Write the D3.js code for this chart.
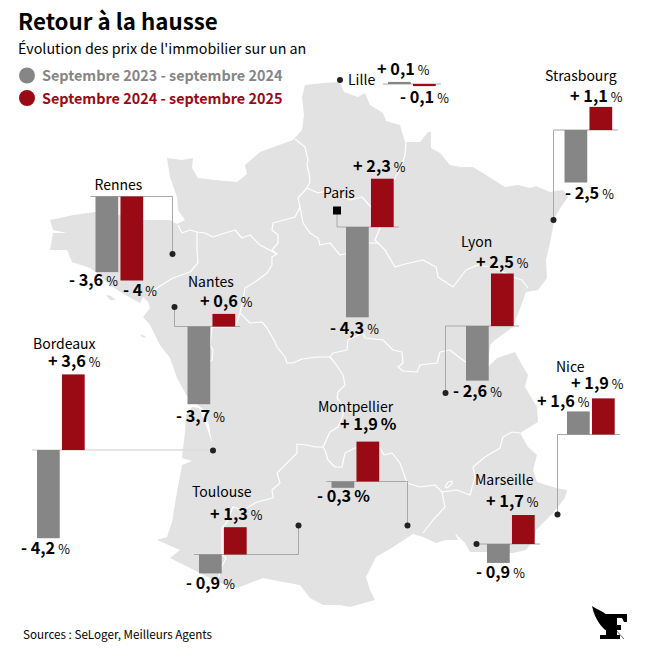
<!DOCTYPE html>
<html>
<head>
<meta charset="utf-8">
<script src="https://cdn.jsdelivr.net/npm/d3@7"></script>
<style>
  body { margin: 0; background: #fff; }
  text { font-family: "Noto Sans CJK SC", "Noto Sans", sans-serif; fill: #000; }
</style>
</head>
<body>
<svg id="canvas"></svg>
<script>
const cities = ["Lille", "Strasbourg", "Paris", "Lyon", "Rennes", "Nantes", "Bordeaux", "Toulouse", "Montpellier", "Marseille", "Nice"];
const change2024 = [0.1, -2.5, -4.3, -2.6, -3.6, -3.7, -4.2, -0.9, -0.3, -0.9, 1.6];
const change2025 = [-0.1, 1.1, 2.3, 2.5, -4, 0.6, 3.6, 1.3, 1.9, 1.7, 1.9];
// the reference draws these bars shorter than their printed value, this is the height they read as
const drawnAs = {Marseille: {v25: 1.38}, Nice: {v24: 1.1, v25: 1.72}};
const periods = ["Septembre 2023 - septembre 2024", "Septembre 2024 - septembre 2025"];

const width = 646;
const height = 651;
const gray = "#868686";
const red = "#990a14";
const mapColor = "#e2e2e2";

// where each little chart sits on the map
// x,y = bars origin; line = baseline ends; pin = end of the leader;
// name, lab24, lab25 = left x and baseline of each text
const layout = {
  Lille:       {x: 388,   y: 84,  line: [383, 441], pin: [340, 80],  name: [348, 85],  lab24: [377, 75],  lab25: [400, 103]},
  Strasbourg:  {x: 564.5, y: 130, line: [553.5, 618], pin: [553.5, 220], name: [545, 81], lab24: [565, 199], lab25: [570, 102]},
  Paris:       {x: 346,   y: 227, line: [337, 399], pin: [337, 210.5], square: true, name: [323, 198], lab24: [330, 334], lab25: [353, 172]},
  Lyon:        {x: 466,   y: 326, line: [445.5, 519], pin: [445.5, 393], name: [461, 247], lab24: [453, 397], lab25: [476, 268]},
  Rennes:      {x: 95.5,  y: 196.5, line: [90.5, 172.5], pin: [172.5, 254], name: [94.5, 190], lab24: [69, 286], lab25: [123, 296]},
  Nantes:      {x: 187.5, y: 326.5, line: [174.5, 240], pin: [174.5, 307], name: [188, 287], lab24: [176, 422], lab25: [200, 307]},
  Bordeaux:    {x: 37,    y: 450, line: [32, 213], pin: [213, 450.5], faint: true, name: [33, 349], lab24: [21, 554], lab25: [48, 367]},
  Toulouse:    {x: 199,   y: 554.5, line: [194, 298.5], pin: [298.5, 525.5], name: [192, 497], lab24: [186, 589], lab25: [210, 520]},
  Montpellier: {x: 331.5, y: 481.5, line: [326.5, 407.5], pin: [407.5, 525.5], name: [318, 412], lab24: [317, 502], lab25: [340, 430], boldPct: true},
  Marseille:   {x: 487,   y: 544, line: [476.5, 540], pin: [476.5, 544], name: [475, 485], lab24: [476, 578], lab25: [486, 507]},
  Nice:        {x: 567,   y: 434.5, line: [557.5, 620], pin: [557.5, 514.5], name: [556, 372], lab24: [537, 407], lab25: [571, 389]}
};

// base map
const franceOutline = [
  [305,85],[323,83],[340,82],[344,92],[358,97],[365,93],[370,105],[383,113],[386,121],[400,125],[405,142],[420,142],
  [428,132],[431,132],[431,148],[440,153],[450,165],[460,167],[473,167],[486,175],[505,187],[518,185],[530,188],
  [536,186],[550,192],[563,190],[568,197],[561,207],[555,217],[550,243],[546,260],[547,278],[538,290],[526,292],
  [522,303],[513,327],[495,340],[490,345],[488,367],[497,358],[515,352],[522,365],[528,375],[525,387],[537,407],
  [538,422],[520,433],[528,447],[537,455],[533,470],[537,482],[556,488],[567,490],[565,498],[553,513],[536,530],
  [534,540],[526,550],[513,553],[490,552],[470,552],[465,543],[455,533],[458,540],[446,540],[436,543],[423,537],
  [413,534],[393,547],[376,557],[366,577],[370,590],[375,600],[350,607],[340,605],[323,605],[310,598],[300,585],
  [283,582],[263,578],[237,588],[217,582],[200,573],[170,558],[180,550],[157,540],[167,537],[172,522],[177,492],
  [182,465],[192,461],[182,458],[185,432],[186,415],[192,407],[199,408],[206,425],[212,443],[209,425],[204,410],
  [187,396],[177,378],[170,358],[160,345],[155,335],[150,325],[143,317],[150,308],[148,302],[143,297],[140,303],
  [122,293],[110,285],[97,273],[90,268],[72,262],[67,250],[50,250],[53,233],[67,233],[53,230],[50,220],[60,218],
  [73,215],[95,212],[120,215],[143,220],[160,220],[170,220],[177,224],[185,220],[178,210],[177,197],[170,177],
  [167,158],[182,160],[193,158],[192,168],[198,178],[215,180],[237,182],[247,174],[245,165],[260,152],[293,140],
  [302,130],[304,115],[302,97]
];
const islands = [
  [[173,366],[180,367],[186,372],[178,371]],
  [[140,334],[145,336],[146,338],[142,337]],
  [[106,295],[111,296],[116,300],[110,300]]
];
const regionLines = [
  [[295,139],[305,147],[308,160],[307,165],[309,173],[310,182],[307,188],[298,198],[300,207],[295,217],[273,223],[272,230],[278,235],[278,243],[272,250],[277,254],[272,257],[272,265],[267,273],[255,282],[245,288],[243,300],[240,313],[250,323],[262,322],[267,328],[275,342],[277,347],[285,357],[287,363],[293,363],[302,359],[317,357],[330,357],[335,363],[343,375],[345,385],[338,392],[337,398],[343,405],[343,415],[338,427],[330,432],[323,447],[315,447],[307,445],[297,444],[297,453],[290,460],[277,473],[280,483],[272,490],[273,498],[257,502],[243,510],[233,507],[227,522],[222,528],[222,555],[226,558],[222,566],[217,582]],
  [[277,254],[260,245],[250,235],[242,238],[235,230],[225,233],[213,237],[205,233],[197,232],[190,230],[182,233],[178,225]],
  [[197,232],[197,250],[198,263],[190,272],[173,278],[157,288],[150,295]],
  [[240,313],[235,327],[212,327],[210,345],[213,350],[212,360],[205,365],[187,365]],
  [[307,188],[318,193],[330,190],[350,200],[362,197],[371,207],[380,228],[375,240],[378,243],[385,250],[395,267],[405,264],[423,260],[436,267],[438,277],[453,287],[466,270],[478,265],[495,268],[513,277],[522,280],[528,288]],
  [[300,207],[303,223],[310,233],[318,238],[320,245],[330,243],[340,255],[355,252],[368,243],[378,243]],
  [[406,142],[405,155],[400,170],[394,180],[371,207]],
  [[330,357],[333,353],[347,350],[348,340],[363,333],[365,338],[383,340],[393,350],[402,352],[403,363],[398,367],[403,371],[417,372],[420,365],[437,363],[440,352],[450,350],[460,358],[470,365],[488,367]],
  [[323,447],[325,450],[328,460],[335,467],[342,467],[345,453],[355,448],[380,448],[384,455],[392,453],[400,463],[407,483],[420,487],[435,485],[442,492],[445,507],[433,520],[423,533]],
  [[442,492],[457,490],[470,495],[475,477],[473,467],[485,457],[500,448],[503,437],[512,432],[520,433]],
  [[445,487],[448,482],[452,481],[452,484],[447,488],[445,487]]
];

const svg = d3.select("#canvas").attr("width", width).attr("height", height).attr("viewBox", `0 0 ${width} ${height}`);
const mapGroup = svg.append("g").classed("mapGroup", true);
const leaderGroup = svg.append("g").classed("leaderGroup", true);
const barGroup = svg.append("g").classed("barGroup", true);
const textGroup = svg.append("g").classed("textGroup", true);

const line = d3.line();
mapGroup.selectAll("path.land")
  .data([franceOutline, ...islands])
  .join("path")
  .classed("land", true)
  .attr("d", d => line(d) + "Z")
  .attr("fill", mapColor);
mapGroup.selectAll("path.region")
  .data(regionLines)
  .join("path")
  .classed("region", true)
  .attr("d", line)
  .attr("fill", "none")
  .attr("stroke", "#fff")
  .attr("stroke-width", 1.2)
  .attr("stroke-linejoin", "round");

// one percentage point is 21px tall on every little chart
const barScale = d3.scaleLinear().domain([0, 1]).range([0, 21]);
const seriesScale = d3.scaleBand().domain(["2024", "2025"]).range([0, 47.7]).paddingInner(0.09);
const colorScale = d3.scaleOrdinal().domain(["2024", "2025"]).range([gray, red]);

const rows = cities.map((city, i) => ({city, v24: change2024[i], v25: change2025[i], ...layout[city]}));

function formatChange(v) {
  return (v < 0 ? "- " : "+ ") + String(Math.abs(v)).replace(".", ",");
}

rows.forEach(d => {
  const g = leaderGroup.append("g");
  const stroke = d.faint ? "#dcdcdc" : "#a8a8a8";
  const sw = d.faint ? 1.6 : 1;
  g.append("line").attr("x1", d.line[0]).attr("x2", d.line[1]).attr("y1", d.y).attr("y2", d.y)
    .attr("stroke", stroke).attr("stroke-width", sw);
  if (d.city !== "Lille") {
    g.append("line").attr("x1", d.pin[0]).attr("x2", d.pin[0]).attr("y1", d.y).attr("y2", d.pin[1])
      .attr("stroke", stroke).attr("stroke-width", sw);
  }
  if (d.square) {
    g.append("rect").attr("x", d.pin[0] - 4).attr("y", d.pin[1] - 4).attr("width", 8).attr("height", 8).attr("fill", "#000");
  } else {
    g.append("circle").attr("cx", d.pin[0]).attr("cy", d.pin[1]).attr("r", 3).attr("fill", "#222");
  }

  const drawn = drawnAs[d.city] || {};
  barGroup.append("g")
    .attr("transform", `translate(${d.x}, ${d.y})`)
    .selectAll("rect")
    .data([["2024", drawn.v24 ?? d.v24], ["2025", drawn.v25 ?? d.v25]])
    .join("rect")
    .attr("x", s => seriesScale(s[0]))
    .attr("width", seriesScale.bandwidth())
    .attr("y", s => s[1] > 0 ? -barScale(s[1]) : 0)
    .attr("height", s => barScale(Math.abs(s[1])))
    .attr("fill", s => colorScale(s[0]));

  textGroup.append("text").attr("x", d.name[0]).attr("y", d.name[1])
    .style("font-size", "14px").text(d.city);

  // number in bold, the % sign lighter
  [[d.v24, d.lab24], [d.v25, d.lab25]].forEach(([value, pos]) => {
    const t = textGroup.append("text").attr("x", pos[0]).attr("y", pos[1]);
    t.append("tspan").style("font-size", "16.3px").style("font-weight", 700).text(formatChange(value));
    t.append("tspan").attr("dx", 3)
      .style("font-size", d.boldPct ? "16.3px" : "12.7px")
      .style("font-weight", d.boldPct ? 700 : 400)
      .text("%");
  });
});

// header
textGroup.append("text").attr("x", 18).attr("y", 30).style("font-size", "22.3px").style("font-weight", 700).text("Retour à la hausse");
textGroup.append("text").attr("x", 18).attr("y", 53.5).style("font-size", "14.3px").text("Évolution des prix de l'immobilier sur un an");

const legendY = d3.scalePoint().domain(periods).range([75.5, 98]);
const legendColor = d3.scaleOrdinal().domain(periods).range([gray, red]);
textGroup.selectAll("circle.legend")
  .data(periods)
  .join("circle")
  .classed("legend", true)
  .attr("cx", 27)
  .attr("cy", d => legendY(d))
  .attr("r", 8)
  .attr("fill", d => legendColor(d));
textGroup.selectAll("text.legend")
  .data(periods)
  .join("text")
  .classed("legend", true)
  .attr("x", 42)
  .attr("y", d => legendY(d) + 5.5)
  .style("font-size", "14.4px")
  .style("font-weight", 700)
  .style("fill", d => legendColor(d))
  .text(d => d);

textGroup.append("text").attr("x", 23).attr("y", 639).style("font-size", "11.65px").text("Sources : SeLoger, Meilleurs Agents");

// Figaro mark
const logo = svg.append("g").classed("logo", true);
logo.append("path")
  .attr("d", "M592,606 C598,610 605,612 610,618 L613,630 L608,632 C602,628 595,620 592,606Z")
  .attr("fill", "#000");
logo.append("path")
  .attr("d", "M604,614 L627,614 L627,622 L624,622 L622,618 L617,618 L617,625 L621,625 L621,630 L617,630 L617,635 L620,635 L620,639 L600,639 L600,635 L606,635 L606,619 Z")
  .attr("fill", "#000");
logo.append("line").attr("x1", 614).attr("y1", 628).attr("x2", 624).attr("y2", 639).attr("stroke", "#000").attr("stroke-width", 0.6);
</script>
</body>
</html>
